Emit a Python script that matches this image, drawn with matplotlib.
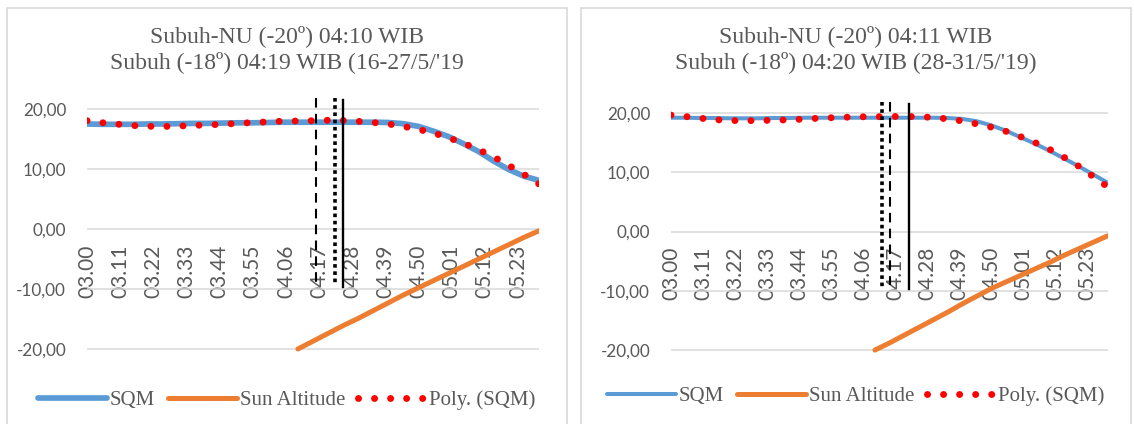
import matplotlib.pyplot as plt
from matplotlib.patches import Rectangle

# minutes after 03:00, one reading every 5 minutes
minutes = list(range(0, 151, 5))
sun_minutes = list(range(70, 151, 5))

tick_minutes = list(range(0, 144, 11))
tick_labels = ["03.00", "03.11", "03.22", "03.33", "03.44", "03.55", "04.06",
               "04.17", "04.28", "04.39", "04.50", "05.01", "05.12", "05.23"]
y_ticks = [-20, -10, 0, 10, 20]

# 16-27/5/'19
sqm_a = [17.5, 17.45, 17.45, 17.45, 17.5, 17.5, 17.55, 17.6, 17.6, 17.65, 17.7,
         17.7, 17.75, 17.8, 17.8, 17.8, 17.8, 17.8, 17.8, 17.8, 17.75, 17.55,
         17.1, 16.3, 15.4, 14.2, 12.9, 11.3, 9.9, 8.8, 8.1]
poly_a = [18.05, 17.72, 17.48, 17.25, 17.12, 17.08, 17.15, 17.25, 17.35, 17.45,
          17.6, 17.75, 17.85, 17.98, 18.0, 18.05, 18.12, 18.08, 17.95, 17.75,
          17.5, 17.1, 16.6, 16.0, 15.2, 14.3, 13.2, 12.0, 10.6, 9.1, 7.5]
sun_a = [-20.0, -18.7, -17.4, -16.1, -14.9, -13.6, -12.3, -11.0, -9.8, -8.6,
         -7.4, -6.2, -5.0, -3.8, -2.6, -1.4, -0.3]
marks_a = {"dashed": 76, "dotted": 82.4, "solid": 85}

# 28-31/5/'19
sqm_b = [19.2, 19.2, 19.15, 19.15, 19.1, 19.1, 19.1, 19.15, 19.15, 19.2, 19.2,
         19.2, 19.2, 19.2, 19.2, 19.2, 19.2, 19.2, 19.2, 19.15, 19.0, 18.6,
         17.9, 17.0, 15.9, 14.8, 13.6, 12.3, 11.0, 9.6, 8.2]
poly_b = [19.65, 19.4, 19.12, 18.88, 18.73, 18.7, 18.72, 18.78, 18.83, 18.95,
          19.1, 19.2, 19.28, 19.35, 19.37, 19.4, 19.42, 19.36, 19.25, 19.0,
          18.65, 18.15, 17.6, 16.9, 16.0, 15.0, 13.85, 12.5, 11.0, 9.25, 7.5]
sun_b = [-20.0, -18.8, -17.5, -16.2, -14.9, -13.6, -12.2, -10.9, -9.6, -8.5,
         -7.4, -6.3, -5.2, -4.0, -2.9, -1.8, -0.7]
marks_b = {"dotted": 72.3, "dashed": 75.2, "solid": 81.8}

titles = [["Subuh-NU (-20º) 04:10 WIB", "Subuh (-18º) 04:19 WIB (16-27/5/'19"],
          ["Subuh-NU (-20º) 04:11 WIB", "Subuh (-18º) 04:20 WIB (28-31/5/'19)"]]

grey = "#595959"
W, H = 1134, 424
fig = plt.figure(figsize=(W / 100, H / 100), dpi=100)


def px(x0, y0, x1, y1):
    return [x0 / W, 1 - y1 / H, (x1 - x0) / W, (y1 - y0) / H]


def panel(box, axbox, title, sqm, poly, sun, marks, sqm_lw, leg_y):
    fig.patches.append(Rectangle((box[0] / W, -0.1), (box[1] - box[0]) / W,
                                 1.1 - 8 / H, transform=fig.transFigure,
                                 fill=False, ec="#d9d9d9", lw=1.2))
    cx = (box[0] + box[1]) / 2 / W
    fig.text(cx, 1 - 41.7 / H, title[0], ha="center", va="baseline",
             family="Liberation Serif", size=17, color=grey)
    fig.text(cx, 1 - 68.3 / H, title[1], ha="center", va="baseline",
             family="Liberation Serif", size=17, color=grey)

    ax = fig.add_axes(axbox)
    for s in ax.spines.values():
        s.set_visible(False)
    ax.spines["bottom"].set_position(("data", 0))

    ax.plot(minutes, sqm, color="#5B9BD5", lw=sqm_lw, solid_capstyle="round",
            label="SQM", zorder=2)
    ax.plot(sun_minutes, sun, color="#ED7D31", lw=3.6, solid_capstyle="round",
            label="Sun Altitude", zorder=2)
    ax.plot(minutes, poly, color="red", lw=5.0, ls=(0, (0.01, 2.3)),
            dash_capstyle="round", label="Poly. (SQM)", zorder=3)

    ax.plot([marks["dashed"]] * 2, [21.8, -9.0], color="black", lw=1.5,
            ls=(0, (4.6, 3.0)), zorder=4)
    ax.plot([marks["dotted"]] * 2, [21.8, -9.3], color="black", lw=2.6,
            ls=(0, (1, 1)), zorder=4)
    ax.plot([marks["solid"]] * 2, [21.5, -9.7], color="black", lw=1.7, zorder=4)

    ax.set_xlim(0, 150)
    ax.set_ylim(-21, 23)
    ax.set_yticks(y_ticks)
    ax.set_yticklabels([("%.2f" % v).replace(".", ",") for v in y_ticks],
                       family="Lato")
    ax.set_xticks(tick_minutes)
    ax.set_xticklabels(tick_labels, rotation=90, family="Lato")
    ax.grid(axis="y", color="#d9d9d9", lw=1.1)
    ax.set_axisbelow(True)
    ax.tick_params(axis="y", length=0, pad=15, labelsize=12.3, labelcolor=grey)
    ax.tick_params(axis="x", length=0, pad=11, labelsize=15, labelcolor=grey)

    leg = ax.legend(loc="center", bbox_to_anchor=(cx, 1 - leg_y / H),
                    bbox_transform=fig.transFigure, ncol=3, frameon=False,
                    handlelength=3.3, handletextpad=0.15, columnspacing=0.6,
                    prop={"family": "Liberation Serif", "size": 15})
    for t in leg.get_texts():
        t.set_color(grey)
    return ax


panel((7, 567), px(87, 91, 539, 355), titles[0], sqm_a, poly_a, sun_a, marks_a,
      4.1, 400)
panel((581, 1131), px(671, 95.2, 1108, 356), titles[1], sqm_b, poly_b, sun_b,
      marks_b, 2.9, 396)

plt.savefig("out.png", dpi=100)
plt.close()
